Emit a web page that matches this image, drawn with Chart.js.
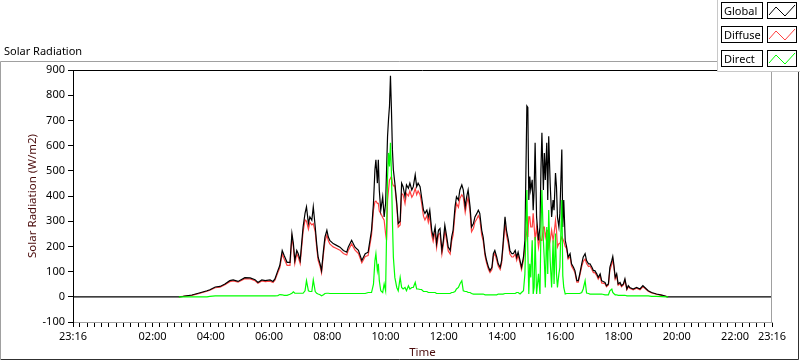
<!DOCTYPE html>
<html><head><meta charset="utf-8">
<script src="https://cdn.jsdelivr.net/npm/chart.js@4.4.1/dist/chart.umd.min.js"></script>
<style>html,body{margin:0;padding:0;background:#fff;overflow:hidden}canvas{display:block}</style>
</head><body><canvas id="c" width="800" height="361"></canvas>
<script>
const chartTitle = 'Solar Radiation';
const xTitle = 'Time';
const yTitle = 'Solar Radiation (W/m2)';
const seriesNames = ['Global', 'Diffuse', 'Direct'];
const seriesColors = ['#000000', '#ff4040', '#00ff00'];

// x axis in minutes after midnight; axis spans 23:16 (previous day) to 23:16
const axisStartMin = -44;
const axisEndMin = 1396;
const xTickMinutes = [-44, 120, 240, 360, 480, 600, 720, 840, 960, 1080, 1200, 1320, 1396];
const xTickLabels = ['23:16', '02:00', '04:00', '06:00', '08:00', '10:00', '12:00', '14:00', '16:00', '18:00', '20:00', '22:00', '23:16'];
const minorStepMin = 15;
const yTickValues = [-100, 0, 100, 200, 300, 400, 500, 600, 700, 800, 900];

// daytime samples (minutes after midnight)
const minutes = [
 174,183,201,216,232,238,249,259,269,279,
 286,296,310,321,331,337,345,352,362,368,
 372,378,382,387,391,397,403,407,410,413,
 417,420,424,427,430,434,437,441,444,448,
 451,455,458,461,465,468,472,475,479,482,
 485,492,499,506,513,520,523,530,537,544,
 551,558,564,571,575,578,580,583,585,587,
 590,594,597,600,602,604,606,608,610,612,
 614,616,619,623,626,630,633,636,640,643,
 647,650,654,657,661,664,667,671,674,678,
 681,685,688,691,695,698,702,705,709,712,
 716,719,722,726,729,733,736,739,743,746,
 750,753,757,760,764,767,770,774,777,781,
 784,788,791,794,798,801,805,808,812,815,
 819,822,825,829,832,836,839,842,846,849,
 853,856,860,863,867,870,873,877,880,884,
 887,891,893,895,897,899,902,904,906,908,
 911,915,918,920,922,925,927,929,932,934,
 936,939,942,945,947,950,952,954,957,959,
 963,965,967,970,973,976,980,983,987,990,
 994,997,1000,1004,1007,1011,1014,1018,1021,1025,
 1028,1031,1035,1038,1042,1045,1052,1055,1059,1062,
 1066,1068,1070,1073,1076,1079,1083,1086,1090,1093,
 1097,1100,1103,1110,1117,1124,1130,1134,1141,1148,
 1158,1169,1179,1182
];
const globalRad = [
 0,2,7,15,24,28,39,41,51,64,
 67,61,76,75,68,57,67,64,67,61,
 71,104,124,184,164,137,137,251,211,144,
 184,171,144,211,277,331,357,291,317,304,
 357,277,211,157,131,104,184,237,264,237,
 224,211,204,197,184,177,197,224,197,184,
 144,171,177,264,371,504,544,451,544,424,
 344,397,317,371,504,637,704,757,877,744,
 584,504,451,371,291,300,451,437,397,444,
 431,451,424,437,484,437,451,437,397,344,
 331,344,317,344,264,237,277,211,264,271,
 184,224,284,237,197,184,237,264,357,397,
 384,424,444,424,357,397,424,357,277,291,
 317,331,344,331,264,237,171,144,117,104,
 117,171,184,157,131,117,144,211,317,264,
 224,184,171,171,184,157,177,144,117,157,
 224,757,751,384,477,424,464,344,424,611,
 317,224,277,504,651,424,571,464,611,384,
 637,451,317,384,344,491,437,317,277,331,
 584,277,384,224,197,157,171,131,117,104,
 64,64,91,131,157,171,144,131,131,117,
 104,104,91,77,91,64,57,44,51,117,
 144,160,131,77,91,51,57,44,51,71,
 31,44,37,31,37,31,44,37,24,17,
 11,7,1,0
];
const diffuseRad = [
 0,2,6,13,22,26,36,38,48,60,
 63,58,72,71,64,54,63,60,62,57,
 66,96,115,170,150,125,125,235,198,132,
 170,158,132,195,258,305,300,268,295,285,
 290,258,195,145,120,95,170,220,245,222,
 210,198,192,185,172,166,184,210,185,172,
 135,160,164,245,345,377,380,371,371,340,
 331,315,304,250,224,380,424,464,470,477,
 451,440,440,360,277,285,410,405,370,410,
 400,420,395,405,430,405,420,405,375,320,
 305,322,295,322,245,220,258,195,248,252,
 170,208,265,220,182,170,220,245,330,370,
 355,390,405,395,335,370,395,335,258,272,
 296,310,322,310,245,222,160,134,108,96,
 108,160,172,145,122,108,134,196,290,245,
 208,170,158,158,170,145,165,134,108,145,
 197,264,237,317,317,277,277,331,280,224,
 277,197,237,224,224,277,277,237,264,264,
 197,224,264,224,250,304,264,197,211,211,
 237,230,220,200,191,150,160,122,108,96,
 58,58,84,120,140,150,132,120,122,108,
 96,96,84,70,84,55,52,40,47,105,
 130,148,122,70,84,46,52,40,47,65,
 28,40,34,28,34,28,40,34,22,15,
 10,6,1,0
];
const directRad = [
 0,0,0,0,0,2,4,4,4,4,
 4,4,4,4,4,4,4,4,4,4,
 4,5,9,8,6,6,10,14,20,14,
 14,14,14,14,14,24,64,24,21,21,
 67,21,14,11,8,4,8,13,14,14,
 13,13,13,13,13,13,13,13,13,13,
 13,13,17,17,50,144,171,104,131,64,
 24,17,51,24,251,477,571,517,611,491,
 304,157,77,37,24,77,37,31,37,24,
 44,31,37,37,57,31,31,29,29,21,
 21,21,17,17,17,17,17,13,13,13,
 13,13,13,13,13,13,17,17,21,31,
 37,51,64,24,21,21,17,17,13,11,
 11,11,11,11,11,11,8,8,8,8,
 8,8,8,8,11,11,11,11,13,13,
 13,13,13,13,13,17,17,11,17,24,
 91,424,184,11,131,77,224,11,37,237,
 11,91,11,264,424,224,144,37,277,91,
 344,144,37,224,51,251,91,37,91,117,
 384,84,37,11,13,13,13,13,13,13,
 13,13,13,17,31,64,15,13,11,11,
 11,11,11,11,11,11,8,8,8,24,
 31,17,13,8,8,6,6,6,6,6,
 4,4,4,4,4,4,4,4,4,2,
 2,1,0,0
];

const toPts = (vals) => minutes.map((m, i) => ({ x: m, y: vals[i] }));
const globalPts = [{ x: axisStartMin, y: 0 }, ...toPts(globalRad), { x: axisEndMin, y: 0 }];

const FONT = '"Noto Sans", "DejaVu Sans", sans-serif';
Chart.defaults.font.family = FONT;
Chart.defaults.font.size = 11;
Chart.defaults.color = '#000';

const decor = {
  id: 'decor',
  beforeDraw(chart) {
    const c = chart.ctx;
    c.save();
    c.fillStyle = '#fff';
    c.fillRect(0, 0, chart.width, chart.height);
    c.lineWidth = 1;
    c.strokeStyle = '#a0a0a0';
    c.beginPath(); c.moveTo(0.5, 360); c.lineTo(0.5, 61.5); c.lineTo(799, 61.5); c.stroke();
    c.strokeStyle = '#303030';
    c.beginPath(); c.moveTo(1, 359.5); c.lineTo(798.5, 359.5); c.lineTo(798.5, 62); c.stroke();
    c.fillStyle = '#000';
    c.font = '11px ' + FONT;
    c.textBaseline = 'alphabetic';
    c.textAlign = 'left';
    c.fillText(chartTitle, 4, 55);
    c.restore();
  },
  afterDraw(chart) {
    const c = chart.ctx;
    const a = chart.chartArea;
    c.save();
    c.lineWidth = 1;
    c.strokeStyle = '#000';
    c.beginPath(); c.moveTo(a.left, Math.round(a.top) + 0.5); c.lineTo(a.right, Math.round(a.top) + 0.5); c.stroke();
    c.strokeStyle = '#a0a0a0';
    c.beginPath(); c.moveTo(Math.round(a.right) - 0.5, a.top); c.lineTo(Math.round(a.right) - 0.5, a.bottom); c.stroke();
    // axis titles
    c.fillStyle = '#4a0c0c';
    c.font = '11.5px ' + FONT;
    c.textAlign = 'center';
    c.textBaseline = 'middle';
    c.fillText(xTitle, (a.left + a.right) / 2, 353);
    c.translate(33, (a.top + a.bottom) / 2);
    c.rotate(-Math.PI / 2);
    c.fillText(yTitle, 0, 0);
    c.setTransform(1, 0, 0, 1, 0, 0);
    // legend
    c.fillStyle = '#fff';
    c.fillRect(717, 0, 83, 72);
    c.strokeStyle = '#c8c8c8';
    c.beginPath(); c.moveTo(717.5, 0); c.lineTo(717.5, 71.5); c.lineTo(800, 71.5); c.stroke();
    seriesNames.forEach((name, i) => {
      const y0 = 2 + i * 24;
      c.fillStyle = '#fff';
      c.fillRect(721, y0, 42, 17);
      c.strokeStyle = '#000';
      c.strokeRect(721.5, y0 + 0.5, 41, 16);
      c.fillRect(767, y0, 30, 17);
      c.strokeRect(767.5, y0 + 0.5, 29, 16);
      c.fillStyle = '#000';
      c.textAlign = 'left';
      c.textBaseline = 'alphabetic';
      c.font = '11px ' + FONT;
      c.fillText(name, 724, y0 + 13);
      c.strokeStyle = seriesColors[i];
      c.beginPath();
      c.moveTo(769, y0 + 13); c.lineTo(776, y0 + 5); c.lineTo(785, y0 + 14); c.lineTo(795, y0 + 3);
      c.stroke();
    });
    c.restore();
  }
};

const xTicksAll = (() => {
  const t = [axisStartMin];
  for (let m = Math.ceil((axisStartMin + 5) / minorStepMin) * minorStepMin; m < axisEndMin - 5; m += minorStepMin) t.push(m);
  t.push(axisEndMin);
  return t;
})();

new Chart(document.getElementById('c'), {
  type: 'line',
  data: {
    datasets: [
      { label: seriesNames[0], data: globalPts, borderColor: seriesColors[0], borderWidth: 1.2, pointRadius: 0, tension: 0, order: 1 },
      { label: seriesNames[1], data: toPts(diffuseRad), borderColor: seriesColors[1], borderWidth: 1.2, pointRadius: 0, tension: 0, order: 2 },
      { label: seriesNames[2], data: toPts(directRad), borderColor: seriesColors[2], borderWidth: 1.2, pointRadius: 0, tension: 0, order: 0 }
    ]
  },
  options: {
    responsive: false,
    animation: false,
    parsing: true,
    layout: { padding: { left: 0, top: 70, right: 28, bottom: 0 } },
    plugins: { legend: { display: false }, tooltip: { enabled: false } },
    scales: {
      x: {
        type: 'linear',
        min: axisStartMin,
        max: axisEndMin,
        afterFit(s) { s.height = 39; },
        afterBuildTicks(s) { s.ticks = xTicksAll.map(v => ({ value: v })); },
        ticks: {
          autoSkip: false, maxRotation: 0, minRotation: 0, padding: 3,
          font: { size: 11, family: FONT }, color: '#000',
          callback(v) { const k = xTickMinutes.indexOf(v); return k >= 0 ? xTickLabels[k] : ''; }
        },
        grid: { display: true, drawOnChartArea: false, drawTicks: true, tickLength: 5, color: '#000' },
        border: { display: true, color: '#a0a0a0' }
      },
      y: {
        min: -100, max: 900,
        afterFit(s) { s.width = 73; },
        afterBuildTicks(s) { s.ticks = yTickValues.map(v => ({ value: v })); },
        ticks: { padding: 3, font: { size: 11, family: FONT }, color: '#000' },
        grid: { display: true, drawOnChartArea: false, drawTicks: true, tickLength: 5, color: '#000' },
        border: { display: true, color: '#000' }
      }
    }
  },
  plugins: [decor]
});
</script>
</body></html>
